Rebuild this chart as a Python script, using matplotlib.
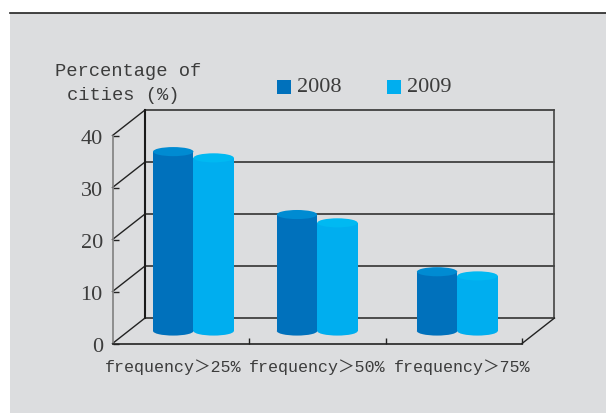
"""Percentage of cities by rain frequency, pseudo-3D cylinder bars."""
import matplotlib
matplotlib.use("Agg")
import matplotlib.pyplot as plt
from matplotlib.patches import Rectangle, Ellipse

W, H = 606, 414

categories = ["frequency＞25%", "frequency＞50%", "frequency＞75%"]
series_names = ["2008", "2009"]
values_2008 = [34.5, 22.4, 11.4]
values_2009 = [33.3, 20.8, 10.6]
y_ticks = [0, 10, 20, 30, 40]

LABEL_FONT = ["Liberation Mono", "Noto Sans CJK SC"]
NUM_FONT = "Liberation Serif"
TXT = "#3c3c3c"
PANEL = "#dcdddf"
DARK, DARK_TOP = "#0071bc", "#008bd2"
LIGHT, LIGHT_TOP = "#00aeef", "#00b9f2"

# chart geometry, in data units of the front plane
DX, DY = 0.238, 4.9      # depth offset of the back wall
BASE = 2.4               # where the cylinders stand
HALF_W = 0.148
ELL_H = 1.75
group_x = [0.593, 1.5, 2.526]
label_x = [0.445, 1.5, 2.56]

fig = plt.figure(figsize=(W / 100, H / 100), dpi=100, facecolor="white")
fig.add_artist(Rectangle((10 / W, 0), 1 - 10 / W, 1 - 14 / H, transform=fig.transFigure,
                         fc=PANEL, ec="none", zorder=-2))
fig.add_artist(plt.Line2D([10 / W, 1], [1 - 14 / H, 1 - 14 / H], color="#222222", lw=1.2, zorder=-1))

ax = fig.add_axes([112.5 / W, 1 - 344.5 / H, 409.5 / W, 208 / H])
ax.patch.set_alpha(0)
ax.set_xlim(0, 3)
ax.set_ylim(0, 40)

# back wall, side wall, floor
for v in y_ticks:
    ax.plot([DX, 3 + DX], [v + DY, v + DY], color="#333333", lw=1.2, clip_on=False, zorder=1)
    ax.plot([0, DX], [v, v + DY], color="#222222", lw=1.0, clip_on=False, zorder=1)
ax.plot([DX, DX], [DY, 40 + DY], color="#1a1a1a", lw=1.5, clip_on=False, zorder=1)
ax.plot([3 + DX, 3 + DX], [DY, 40 + DY], color="#444444", lw=1.2, clip_on=False, zorder=1)
ax.plot([3, 3 + DX], [0, DY], color="#222222", lw=1.0, clip_on=False, zorder=1)


def cylinder(xc, val, body, top, z):
    ax.add_patch(Ellipse((xc, BASE), 2 * HALF_W, ELL_H, fc=body, ec="none", zorder=z, clip_on=False))
    ax.add_patch(Rectangle((xc - HALF_W, BASE), 2 * HALF_W, val, fc=body, ec="none", zorder=z, clip_on=False))
    ax.add_patch(Ellipse((xc, BASE + val), 2 * HALF_W, ELL_H, fc=top, ec="none", zorder=z, clip_on=False))


for gx, v08, v09 in zip(group_x, values_2008, values_2009):
    cylinder(gx + HALF_W, v09, LIGHT, LIGHT_TOP, 2)
    cylinder(gx - HALF_W, v08, DARK, DARK_TOP, 3)

for s in ["top", "right"]:
    ax.spines[s].set_visible(False)
ax.spines["left"].set_color("#808080")
ax.spines["left"].set_linewidth(1.2)
ax.spines["bottom"].set_color("#222222")
ax.spines["bottom"].set_linewidth(1.2)

ax.set_yticks(y_ticks)
ax.set_yticklabels([str(v) for v in y_ticks], fontsize=16, family=NUM_FONT, color=TXT)
ax.tick_params(axis="y", direction="in", length=4.5, width=1.0, color="#222222", pad=7)
ax.set_xticks([1, 2, 3])
ax.set_xticklabels(["", "", ""])
ax.tick_params(axis="x", which="major", direction="in", length=4.5, width=1.0, color="#222222")
ax.set_xticks(label_x, categories, minor=True)
ax.tick_params(axis="x", which="minor", length=0, pad=11)
for t in ax.get_xticklabels(minor=True):
    t.set_fontfamily(LABEL_FONT)
    t.set_fontsize(12)
    t.set_color(TXT)

# y title
fig.text(128 / W, 1 - 71 / H, "Percentage of", family=LABEL_FONT, fontsize=13.5,
         color=TXT, ha="center", va="center")
fig.text(123 / W, 1 - 95 / H, "cities (%)", family=LABEL_FONT, fontsize=13.5,
         color=TXT, ha="center", va="center")

# legend
for name, col, lx in zip(series_names, [DARK, LIGHT], [277, 387]):
    fig.add_artist(Rectangle((lx / W, 1 - 95 / H), 14 / W, 14 / H, transform=fig.transFigure,
                             fc=col, ec="none"))
    fig.text((lx + 20) / W, 1 - 88 / H, name, family=NUM_FONT, fontsize=16, color=TXT,
             ha="left", va="center")

fig.savefig("out.png", dpi=100, facecolor=fig.get_facecolor())
plt.close(fig)
